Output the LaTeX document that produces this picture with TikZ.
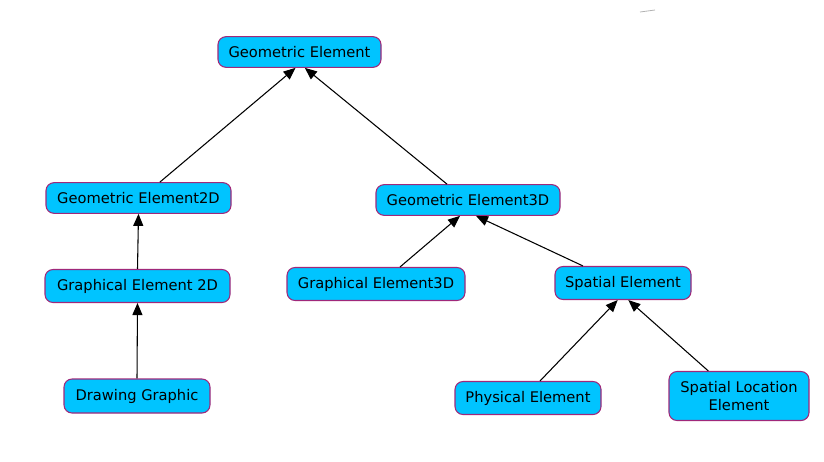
\documentclass[tikz,border=0pt]{standalone}
\usepackage{fontspec}
\setmainfont{DejaVu Sans}
\usetikzlibrary{arrows.meta}
\definecolor{boxfill}{HTML}{00C4FF}
\definecolor{boxline}{HTML}{A0287A}

\begin{document}
\begin{tikzpicture}[x=0.75pt,y=-0.75pt]
  \tikzset{elem/.style={draw=boxline,line width=0.8pt,fill=boxfill,rounded corners=6pt,
                        align=center,font=\fontsize{11}{13}\selectfont,inner sep=0pt,
                        minimum height=23pt},
           wd/.style={minimum width=#1*0.75pt},
           ht/.style={minimum height=#1*0.75pt},
           isa/.style={-{Triangle[length=9pt,width=7.5pt]},line width=0.8pt}}
  \useasboundingbox (0,0) rectangle (824,461);
  \node [elem,wd=163] (geo)   at (299.5,52)  {Geometric Element};
  \node [elem,wd=185] (geo2d) at (138.5,198) {Geometric Element2D};
  \node [elem,wd=184] (geo3d) at (468,200)   {Geometric Element3D};
  \node [elem,wd=185,ht=33] (gr2d)  at (137.5,286) {Graphical Element 2D};
  \node [elem,wd=178,ht=33] (gr3d)  at (376,284)   {Graphical Element3D};
  \node [elem,wd=136,ht=33] (spat)  at (623,283)   {Spatial Element};
  \node [elem,wd=146,ht=34] (draw)  at (137,396)   {Drawing Graphic};
  \node [elem,wd=146,ht=33] (phys)  at (528,398)   {Physical Element};
  \node [elem,wd=140,ht=49] (loc)   at (739,396)   {Spatial Location\\Element};
  % is-a links
  \draw [isa] ([xshift=16pt]geo2d.north) -- ([xshift=-3pt]geo.south);
  \draw [isa] ([xshift=-15.75pt]geo3d.north) -- ([xshift=4pt]geo.south);
  \draw [isa] (gr2d.north) -- (geo2d.south);
  \draw [isa] (draw.north) -- (gr2d.south);
  \draw [isa] ([xshift=18pt]gr3d.north) -- ([xshift=-6pt]geo3d.south);
  \draw [isa] ([xshift=-30pt]spat.north) -- ([xshift=6pt]geo3d.south);
  \draw [isa] ([xshift=9pt]phys.north) -- ([xshift=-4pt]spat.south);
  \draw [isa] ([xshift=-23pt]loc.north) -- ([xshift=4pt]spat.south);
  \draw [gray!60,line width=0.6pt] (640,12) -- (655,10);
\end{tikzpicture}
\end{document}
